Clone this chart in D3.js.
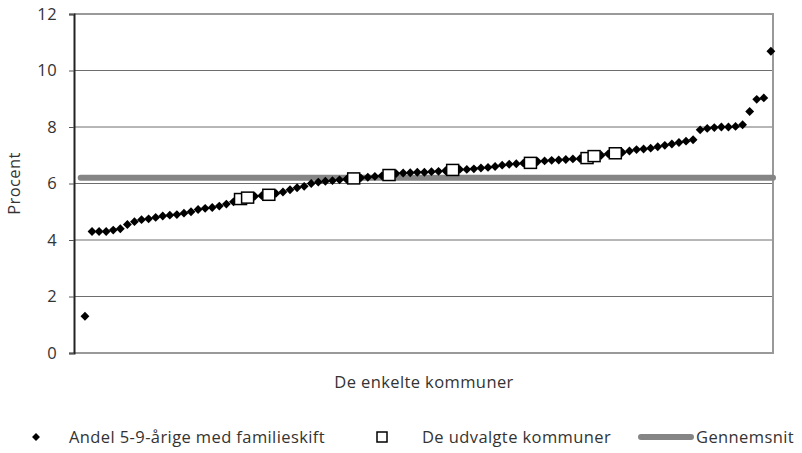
<!DOCTYPE html>
<html>
<head>
<meta charset="utf-8">
<script src="https://cdn.jsdelivr.net/npm/d3@7"></script>
<style>
  body { margin: 0; background: #fff; }
  text { font-family: "Open Sans", Roboto, sans-serif; fill: #333; letter-spacing: 0.4px; }
</style>
</head>
<body>
<svg id="chart" width="802" height="453"></svg>
<script>
// share of 5-9 year olds with family change, one value per municipality (sorted)
const andel = [
  1.3, 4.3, 4.3, 4.3, 4.35, 4.4, 4.55, 4.65, 4.72, 4.75,
  4.8, 4.85, 4.88, 4.9, 4.95, 5.0, 5.08, 5.12, 5.15, 5.2,
  5.27, 5.35, 5.45, 5.5, 5.55, 5.57, 5.6, 5.65, 5.7, 5.78,
  5.85, 5.9, 6.0, 6.05, 6.08, 6.1, 6.13, 6.15, 6.18, 6.2,
  6.22, 6.25, 6.27, 6.3, 6.35, 6.37, 6.38, 6.4, 6.4, 6.42,
  6.43, 6.45, 6.48, 6.5, 6.5, 6.52, 6.55, 6.57, 6.6, 6.65,
  6.68, 6.7, 6.72, 6.73, 6.78, 6.8, 6.82, 6.83, 6.85, 6.87,
  6.88, 6.9, 6.97, 7.0, 7.05, 7.07, 7.1, 7.15, 7.2, 7.22,
  7.25, 7.3, 7.35, 7.4, 7.45, 7.5, 7.55, 7.9, 7.95, 7.98,
  8.0, 8.0, 8.02, 8.08, 8.55, 8.98, 9.03, 10.68
];
// indices of the selected municipalities
const udvalgte = [22, 23, 26, 38, 43, 52, 63, 71, 72, 75];
const gennemsnit = 6.2;
const yTicks = [0, 2, 4, 6, 8, 10, 12];

const svg = d3.select("#chart");
const margins = {top: 14, bottom: 100, left: 74, right: 29};
const width = 802, height = 453;
const chart_width = width - margins.left - margins.right;
const chart_height = height - margins.top - margins.bottom;
const fontSize = "16.5px";

const chart = svg.append("g")
  .attr("transform", `translate(${margins.left}, ${margins.top})`);

const x_scale = d3.scaleLinear()
  .domain([-1.55, 97.3])
  .range([0, chart_width]);

const y_scale = d3.scaleLinear()
  .domain([0, 12])
  .range([chart_height, 0]);

// gridlines
chart.selectAll(".grid")
  .data(yTicks.filter(d => d > 0 && d < 12))
  .enter()
  .append("line")
  .attr("x1", 0).attr("x2", chart_width)
  .attr("y1", d => y_scale(d)).attr("y2", d => y_scale(d))
  .attr("stroke", "#6e6e6e").attr("stroke-width", 1);

// frame (top, right, bottom)
chart.append("path")
  .attr("d", `M0,${y_scale(12)}H${chart_width}V${y_scale(0)}H0`)
  .attr("fill", "none")
  .attr("stroke", "#999").attr("stroke-width", 2);

// y axis
const yAxis = d3.axisLeft(y_scale).tickValues(yTicks).tickSize(5).tickPadding(12);
const y_axis = chart.append("g").call(yAxis);
y_axis.select(".domain").attr("stroke", "#222").attr("stroke-width", 2);
y_axis.selectAll(".tick line").attr("stroke", "#555");
y_axis.selectAll("text")
  .style("font-size", fontSize)
  .attr("fill", "#333")
  .attr("font-family", "'Open Sans', sans-serif");

// average line
chart.append("line")
  .attr("x1", x_scale(-0.6)).attr("x2", chart_width)
  .attr("y1", y_scale(gennemsnit)).attr("y2", y_scale(gennemsnit))
  .attr("stroke", "#858585").attr("stroke-width", 6)
  .attr("stroke-linecap", "round");

// diamonds
const diamond = d3.symbol().type(d3.symbolDiamond2).size(50);
chart.selectAll(".pt")
  .data(andel)
  .enter()
  .append("path")
  .attr("class", "pt")
  .attr("d", diamond)
  .attr("transform", (d, i) => `translate(${x_scale(i)}, ${y_scale(d)})`)
  .attr("fill", "#000");

// selected municipalities
chart.selectAll(".sel")
  .data(udvalgte)
  .enter()
  .append("rect")
  .attr("class", "sel")
  .attr("x", i => x_scale(i) - 6)
  .attr("y", i => y_scale(andel[i]) - 5.5)
  .attr("width", 12).attr("height", 11)
  .attr("fill", "#fff")
  .attr("stroke", "#000").attr("stroke-width", 1.5);

// axis labels
svg.append("text")
  .attr("text-anchor", "middle")
  .attr("transform", `translate(20, ${margins.top + chart_height / 2}) rotate(-90)`)
  .style("font-size", fontSize)
  .text("Procent");

svg.append("text")
  .attr("text-anchor", "middle")
  .attr("x", 424).attr("y", 388)
  .style("font-size", fontSize)
  .text("De enkelte kommuner");

// legend
const legend = svg.append("g").attr("transform", "translate(0, 437)");
legend.append("path")
  .attr("d", d3.symbol().type(d3.symbolDiamond2).size(40))
  .attr("transform", "translate(36, 0)")
  .attr("fill", "#000");
legend.append("text").attr("x", 69).attr("y", 6)
  .style("font-size", fontSize).text("Andel 5-9-årige med familieskift");
legend.append("rect")
  .attr("x", 377).attr("y", -5).attr("width", 10).attr("height", 10)
  .attr("fill", "#fff").attr("stroke", "#000").attr("stroke-width", 1.5);
legend.append("text").attr("x", 422).attr("y", 6)
  .style("font-size", fontSize).text("De udvalgte kommuner");
legend.append("line")
  .attr("x1", 641).attr("x2", 691).attr("y1", 0).attr("y2", 0)
  .attr("stroke", "#858585").attr("stroke-width", 6).attr("stroke-linecap", "round");
legend.append("text").attr("x", 696).attr("y", 6)
  .style("font-size", fontSize).text("Gennemsnit");
</script>
</body>
</html>
